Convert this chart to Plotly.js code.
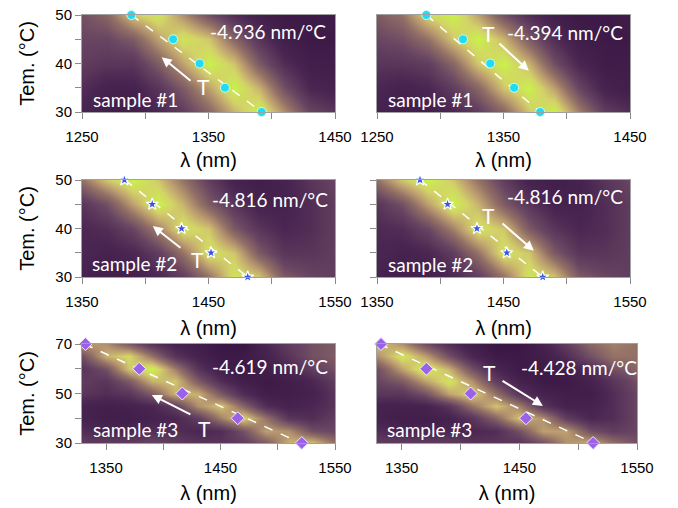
<!DOCTYPE html>
<html><head><meta charset="utf-8">
<script src="https://cdn.plot.ly/plotly-3.0.1.min.js"></script>
<style>html,body{margin:0;padding:0;background:#fff}</style>
</head><body><div id="chart" style="width:678px;height:508px"></div>
<script>
// ---- data ----
const lamA = [1250,1270,1290,1310,1330,1350,1370,1390,1410,1430,1450];
const lamB = [1350,1370,1390,1410,1430,1450,1470,1490,1510,1530,1550];
const lamC = [1330,1350,1370,1390,1410,1430,1450,1470,1490,1510,1530,1550];
const tempAB = [30,35,40,45,50];
const tempC = [30,35,40,45,50,55,60,65,70];

const z1a = [
  [0.18,0.10,0.10,0.20,0.35,0.55,0.80,1.00,0.70,0.40,0.30],
  [0.25,0.15,0.15,0.30,0.50,0.75,1.00,0.80,0.45,0.20,0.15],
  [0.35,0.30,0.30,0.50,0.75,1.00,0.85,0.50,0.25,0.10,0.10],
  [0.40,0.40,0.50,0.75,0.95,0.85,0.55,0.30,0.10,0.05,0.05],
  [0.45,0.55,0.85,0.95,0.70,0.45,0.25,0.10,0.05,0.05,0.08]
];
const z1b = [
  [0.15,0.10,0.12,0.20,0.35,0.55,0.85,1.00,0.65,0.35,0.25],
  [0.20,0.15,0.20,0.35,0.55,0.85,1.00,0.75,0.40,0.15,0.10],
  [0.30,0.30,0.35,0.55,0.85,1.00,0.80,0.45,0.20,0.08,0.08],
  [0.40,0.45,0.60,0.85,1.00,0.80,0.50,0.25,0.08,0.05,0.05],
  [0.50,0.60,0.90,1.00,0.75,0.45,0.25,0.10,0.05,0.05,0.08]
];
const z2a = [
  [0.15,0.10,0.12,0.20,0.35,0.60,0.95,0.85,0.50,0.40,0.35],
  [0.20,0.15,0.20,0.35,0.60,0.95,0.85,0.50,0.30,0.30,0.35],
  [0.20,0.25,0.40,0.65,0.95,0.85,0.50,0.30,0.20,0.25,0.35],
  [0.30,0.45,0.75,1.00,0.80,0.50,0.30,0.15,0.15,0.25,0.35],
  [0.60,0.85,1.00,0.85,0.60,0.35,0.15,0.10,0.15,0.30,0.40]
];
const z2b = [
  [0.15,0.10,0.12,0.20,0.35,0.60,0.95,0.85,0.50,0.40,0.35],
  [0.20,0.15,0.20,0.35,0.60,0.95,0.85,0.50,0.30,0.30,0.35],
  [0.22,0.25,0.40,0.65,0.95,0.85,0.50,0.30,0.20,0.25,0.35],
  [0.30,0.45,0.75,1.00,0.80,0.50,0.30,0.15,0.15,0.25,0.35],
  [0.60,0.85,1.00,0.85,0.60,0.35,0.15,0.10,0.15,0.30,0.40]
];
const z3a = [
  [0.35,0.35,0.35,0.40,0.35,0.30,0.30,0.35,0.50,0.80,0.85,0.60],
  [0.25,0.20,0.20,0.25,0.25,0.20,0.25,0.45,0.75,0.70,0.45,0.40],
  [0.15,0.10,0.10,0.15,0.20,0.35,0.65,0.90,0.60,0.30,0.25,0.35],
  [0.15,0.12,0.15,0.20,0.35,0.70,0.85,0.55,0.25,0.15,0.20,0.30],
  [0.30,0.25,0.30,0.50,0.80,0.80,0.50,0.25,0.10,0.10,0.15,0.30],
  [0.35,0.30,0.50,0.80,0.85,0.50,0.25,0.10,0.05,0.10,0.20,0.35],
  [0.30,0.45,0.85,1.00,0.65,0.30,0.10,0.05,0.10,0.20,0.35,0.45],
  [0.45,0.80,0.90,0.60,0.30,0.15,0.05,0.05,0.15,0.30,0.45,0.50],
  [0.75,0.70,0.50,0.30,0.15,0.10,0.00,0.00,0.20,0.35,0.45,0.50]
];
const z3b = [
  [0.35,0.35,0.35,0.35,0.30,0.30,0.30,0.45,0.70,0.80,0.60,0.45],
  [0.25,0.20,0.20,0.20,0.20,0.25,0.45,0.75,0.75,0.45,0.35,0.40],
  [0.15,0.10,0.10,0.15,0.30,0.55,0.85,0.70,0.35,0.20,0.25,0.40],
  [0.15,0.15,0.15,0.30,0.60,0.85,0.65,0.30,0.15,0.15,0.25,0.40],
  [0.30,0.30,0.45,0.75,0.90,0.60,0.30,0.15,0.10,0.10,0.25,0.40],
  [0.40,0.50,0.75,0.95,0.70,0.35,0.15,0.05,0.05,0.15,0.30,0.45],
  [0.45,0.75,1.00,0.80,0.45,0.20,0.05,0.05,0.10,0.25,0.45,0.55],
  [0.70,0.95,0.75,0.45,0.20,0.05,0.05,0.10,0.25,0.45,0.60,0.60],
  [0.85,0.70,0.45,0.25,0.10,0.00,0.00,0.15,0.35,0.55,0.65,0.60]
];

// resonance points
const ptTAB = [50,45,40,35,30];
const ptTC = [70,60,50,40,30];
const pt1aX = [1289,1322,1343,1363,1392];
const pt1bX = [1289,1318,1339.5,1358.4,1379];
const pt2aX = [1383.5,1405.5,1428.7,1452,1481];
const pt2bX = [1384,1405.8,1429,1452.6,1481];
const pt3aX = [1332,1379,1416.6,1465,1521];
const pt3bX = [1332.4,1371,1408.6,1455.6,1512.7];

// linear fits (end points)
const fitTAB = [50,30];
const fitTC = [70,30];
const fit1aX = [1289,1392];
const fit1bX = [1289,1379];
const fit2aX = [1384,1481];
const fit2bX = [1384,1481];
const fit3aX = [1331,1520];
const fit3bX = [1331,1513];

const slopeLabels = ['-4.936 nm/°C','-4.394 nm/°C','-4.816 nm/°C','-4.816 nm/°C','-4.619 nm/°C','-4.428 nm/°C'];
const sampleLabels = ['sample #1','sample #1','sample #2','sample #2','sample #3','sample #3'];
const xTickVals12 = [1250,1300,1350,1400,1450];
const xTickText12 = ['1250','','1350','','1450'];
const xTickVals34 = [1350,1400,1450,1500,1550];
const xTickText34 = ['1350','','1450','','1550'];
const xTickVals56 = [1350,1400,1450,1500,1550];
const xTickText56 = ['1350','','1450','','1550'];
const yTickValsAB = [30,35,40,45,50];
const yTickTextAB = ['30','','40','','50'];
const yTickValsC = [30,40,50,60,70];
const yTickTextC = ['30','','50','','70'];

// ---- build ----
const cs = [
  [0.00,'#3a1644'],[0.20,'#4a2652'],[0.40,'#684562'],[0.60,'#937166'],
  [0.75,'#bea070'],[0.88,'#d3d268'],[1.00,'#c8f24a']
];

const panels = [
  {lam: lamA, t: tempAB, z: z1a, px: pt1aX, pt: ptTAB, fx: fit1aX, ft: fitTAB, mk: 'circle'},
  {lam: lamA, t: tempAB, z: z1b, px: pt1bX, pt: ptTAB, fx: fit1bX, ft: fitTAB, mk: 'circle'},
  {lam: lamB, t: tempAB, z: z2a, px: pt2aX, pt: ptTAB, fx: fit2aX, ft: fitTAB, mk: 'star'},
  {lam: lamB, t: tempAB, z: z2b, px: pt2bX, pt: ptTAB, fx: fit2bX, ft: fitTAB, mk: 'star'},
  {lam: lamC, t: tempC, z: z3a, px: pt3aX, pt: ptTC, fx: fit3aX, ft: fitTC, mk: 'diamond'},
  {lam: lamC, t: tempC, z: z3b, px: pt3bX, pt: ptTC, fx: fit3bX, ft: fitTC, mk: 'diamond'}
];
const markerStyle = {
  circle: {symbol:'circle', size:9, color:'#1fdcf2', line:{color:'#c8fbff', width:1}},
  star: {symbol:'star', size:9, color:'#3a55e0', line:{color:'#ffffff', width:1.2}},
  diamond: {symbol:'diamond', size:10, color:'#9a62e6', line:{color:'#f0e6ff', width:1}}
};

const traces = [];
panels.forEach((p,i) => {
  const xa = 'x' + (i ? i+1 : ''), ya = 'y' + (i ? i+1 : '');
  traces.push({type:'heatmap', x:p.lam, y:p.t, z:p.z, zmin:0, zmax:1, zsmooth:'best',
    colorscale:cs, showscale:false, xaxis:xa, yaxis:ya, hoverinfo:'skip'});
  traces.push({type:'scatter', mode:'lines', x:p.fx, y:p.ft, xaxis:xa, yaxis:ya,
    line:{color:'#ffffff', width:1.5, dash:'dash'}, showlegend:false, cliponaxis:false});
  traces.push({type:'scatter', mode:'markers', x:p.px, y:p.pt, xaxis:xa, yaxis:ya,
    marker:markerStyle[p.mk], showlegend:false, cliponaxis:false});
});

const W = 678, H = 508;
const colX = [[82,335],[377,630]];
const rows = [[15,112],[180,277],[344,443]];
const dom = (a,b) => [a/W, b/W];
const domY = (t,b) => [1-b/H, 1-t/H];

const axFont = {family:'"Liberation Sans", Arial, sans-serif', size:15, color:'#000'};
const titleFont = {family:'"Liberation Sans", Arial, sans-serif', size:20, color:'#000'};
const xStand = [8,8,11,11,10,10];

const layout = {
  width:W, height:H, margin:{l:0,r:0,t:0,b:0},
  paper_bgcolor:'#ffffff', plot_bgcolor:'#ffffff', showlegend:false,
  annotations:[]
};
const xr = [[1250,1450],[1250,1450],[1350,1550],[1350,1550],[1329,1550],[1329,1550]];
const yr = [[30,50],[30,50],[30,50],[30,50],[30,70],[30,70]];
const xtv = [xTickVals12,xTickVals12,xTickVals34,xTickVals34,xTickVals56,xTickVals56];
const xtt = [xTickText12,xTickText12,xTickText34,xTickText34,xTickText56,xTickText56];
const ytv = [yTickValsAB,yTickValsAB,yTickValsAB,yTickValsAB,yTickValsC,yTickValsC];
const ytt = [yTickTextAB,yTickTextAB,yTickTextAB,yTickTextAB,yTickTextC,yTickTextC];

for (let i=0;i<6;i++){
  const r = Math.floor(i/2), c = i%2;
  let xd = colX[c];
  if (i===5) xd = [377,637];
  const k = i ? i+1 : '';
  layout['xaxis'+k] = {
    domain: dom(xd[0], xd[1]), range: xr[i], anchor: 'y'+k,
    tickmode:'array', tickvals: xtv[i], ticktext: xtt[i],
    ticks:'outside', ticklen:6, tickcolor:'#8a8a8a', tickfont:axFont, ticklabelstandoff:5,
    showline:true, linecolor:'#a0a0a0', linewidth:1, mirror:true,
    showgrid:false, zeroline:false,
    title:{text:'λ (nm)', font:titleFont, standoff: xStand[i]}
  };
  layout['yaxis'+k] = {
    domain: domY(rows[r][0], rows[r][1]), range: yr[i], anchor: 'x'+k,
    tickmode:'array', tickvals: ytv[i], ticktext: c===0 ? ytt[i] : ytv[i].map(()=>''),
    ticks: (c===0 || i===3) ? 'outside' : '', ticklen:6, tickcolor:'#8a8a8a', tickfont:axFont,
    showline:true, linecolor:'#a0a0a0', linewidth:1, mirror:true,
    showgrid:false, zeroline:false,
    title: c===0 ? {text:'Tem. (°C)', font:titleFont, standoff: 15} : {text:''}
  };
}

const inFont = (s) => ({family:'Lato, "Open Sans", sans-serif', size:s, color:'#ffffff'});
// slope labels
const slopePos = [[1397,46.5,'center'],[1398.6,46.3,'center'],[1498.6,45.9,'center'],[1498.6,46.5,'center'],[1493,61.1,'center'],[1449.7,60.7,'left']];
const samplePos = [[1292.3,32.5],[1291.9,32.5],[1391.5,32.7],[1391.9,32.5],[1375.7,35.3],[1373.6,35.3]];
const tPos = [[1346.4,35.2],[1338.5,46.1],[1441,33.7],[1438.5,42.6],[1435.6,36],[1425,58.3]];
const arrowPos = [
  [1313,41.3,1337,36.2],[1370,38.5,1345.6,44.4],
  [1406,40.5,1429,35.8],[1474,35.4,1448,41.3],
  [1390,49.4,1425,41.3],[1470,45,1434.4,55.5]
];
for (let i=0;i<6;i++){
  const k = i ? i+1 : '';
  const xref = 'x'+k, yref = 'y'+k;
  layout.annotations.push({xref, yref, x:slopePos[i][0], y:slopePos[i][1], xanchor:slopePos[i][2], yanchor:'middle',
    text:slopeLabels[i], showarrow:false, font:inFont(19)});
  layout.annotations.push({xref, yref, x:samplePos[i][0], y:samplePos[i][1], xanchor:'center', yanchor:'middle',
    text:sampleLabels[i], showarrow:false, font:inFont(19)});
  layout.annotations.push({xref, yref, x:tPos[i][0], y:tPos[i][1], xanchor:'center', yanchor:'middle',
    text:'T', showarrow:false, font:inFont(21)});
  const a = arrowPos[i];
  layout.annotations.push({xref, yref, x:a[0], y:a[1], axref:xref, ayref:yref, ax:a[2], ay:a[3],
    text:'', showarrow:true, arrowhead:2, arrowsize:1, arrowwidth:2, arrowcolor:'#ffffff'});
}

Plotly.newPlot('chart', traces, layout, {displayModeBar:false, staticPlot:true});
</script></body></html>
